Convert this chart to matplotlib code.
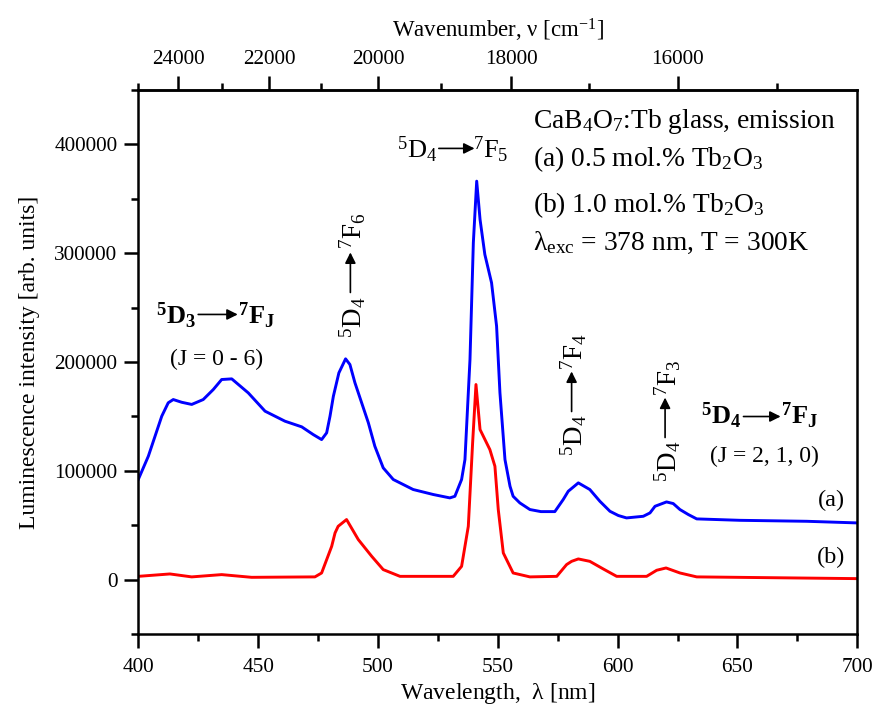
import matplotlib.pyplot as plt
import numpy as np
from matplotlib.ticker import MultipleLocator

plt.rcParams['font.family'] = 'Liberation Serif'
plt.rcParams['mathtext.fontset'] = 'custom'
plt.rcParams['mathtext.rm'] = 'Liberation Serif'
plt.rcParams['mathtext.it'] = 'Liberation Serif:italic'
plt.rcParams['mathtext.bf'] = 'Liberation Serif:bold'
plt.rcParams['mathtext.default'] = 'regular'

# (a) 0.5 mol.% Tb2O3
wl_a = [400, 404.2, 409.8, 412.5, 414.6, 418.1, 422.3, 427.1, 431.3, 434.8, 439,
        445.9, 452.9, 461.2, 468.2, 473, 476.5, 478.6, 480, 481.4, 483.7, 486.5,
        488.3, 490.4, 493.2, 496, 498.7, 502.2, 506.4, 514.7, 523.1, 530, 532.1,
        534.9, 536.3, 538.4, 539.8, 541.2, 542.6, 544.6, 547.4, 549.5, 550.9, 553,
        555.1, 556.4, 559.2, 563.4, 568, 573.8, 577.3, 579.4, 583.6, 588.4, 592.6,
        596.8, 600.3, 603.7, 610.7, 613.5, 615.6, 620.4, 623.2, 626, 629.5, 633,
        651, 678.9, 700]
int_a = [92000, 113400, 150200, 162500, 165500, 163000, 161000, 165500, 174700,
         183900, 184500, 171600, 154800, 145600, 140400, 133300, 128700, 134900,
         150200, 168500, 190000, 202900, 197700, 180900, 162500, 144100, 122600,
         102700, 92000, 82800, 78200, 75100, 76600, 92000, 110300, 202300, 309600,
         366200, 331000, 298800, 272800, 232900, 171700, 110300, 85800, 76600,
         70500, 64400, 62500, 62500, 73600, 81200, 88900, 82800, 72000, 62800,
         58900, 56700, 58200, 61300, 67400, 71400, 69900, 64400, 59800, 55800,
         54500, 53600, 52100]

# (b) 1.0 mol.% Tb2O3
wl_b = [400, 413.2, 422.3, 434.8, 447.3, 473.7, 476.5, 480.7, 482.1, 483.4, 486.9,
        491.8, 497.4, 502.2, 509.2, 531.4, 534.9, 537.7, 539.5, 540.9, 542.6, 546.7,
        548.8, 550.2, 552.3, 556.4, 563.4, 574.6, 578.7, 580.8, 583.6, 588.4, 594,
        599.6, 612.1, 616.3, 620.2, 626, 633, 700]
int_b = [3000, 5200, 2500, 4600, 2100, 2500, 6100, 30600, 42900, 49000, 55200,
         36800, 21400, 9200, 3000, 3000, 12200, 49000, 125700, 179300, 137900,
         119500, 104200, 64400, 24500, 6100, 2500, 3000, 13800, 16800, 19000, 16800,
         9800, 3000, 3000, 8600, 10700, 6100, 2500, 900]

y_ticks = [0, 100000, 200000, 300000, 400000]
y_labels = ['0', '100000', '200000', '300000', '400000']
x_ticks = [400, 450, 500, 550, 600, 650, 700]
top_ticks = [24000, 22000, 20000, 18000, 16000]
top_minor = [25000, 23000, 21000, 19000, 17000, 15000]

fig = plt.figure(figsize=(8.74, 7.08), dpi=100)
ax = fig.add_axes([0.1582, 0.1045, 0.8227, 0.7684])

ax.plot(wl_a, int_a, color='#0000ff', lw=2.1)
ax.plot(wl_b, int_b, color='#ff0000', lw=2.1)

ax.set_xlim(400, 700)
ax.set_ylim(-50000, 450000)
ax.set_xticks(x_ticks)
ax.xaxis.set_minor_locator(MultipleLocator(25))
ax.set_yticks(y_ticks)
ax.set_yticklabels(y_labels)
ax.yaxis.set_minor_locator(MultipleLocator(50000))

for s in ax.spines.values():
    s.set_linewidth(1.8)
ax.tick_params(which='major', direction='out', length=10, width=1.8, labelsize=15.3, pad=5)
ax.tick_params(which='minor', direction='out', length=5, width=1.8)
ax.tick_params(axis='x', which='major', pad=7)

ax.set_xlabel(r'Wavelength,  $\lambda$ [nm]', fontsize=17, labelpad=3)
ax.set_ylabel('Luminescence intensity [arb. units]', fontsize=17, labelpad=10)


def inv(x):
    x = np.asarray(x, dtype=float)
    with np.errstate(divide='ignore'):
        return 1e7 / x


sec = ax.secondary_xaxis('top', functions=(inv, inv))
sec.set_xticks(top_ticks)
sec.set_xticks(top_minor, minor=True)
sec.set_xticklabels([str(t) for t in top_ticks])
sec.spines['top'].set_linewidth(1.8)
sec.tick_params(which='major', direction='out', length=10, width=1.8, labelsize=15.3, pad=5)
sec.tick_params(which='minor', direction='out', length=5, width=1.8)
sec.set_xlabel(r'Wavenumber, $\nu$ [cm$^{-1}$]', fontsize=16.5, labelpad=9)

# info text
info = [r'CaB$_4$O$_7$:Tb glass, emission',
        r'(a) 0.5 mol.% Tb$_2$O$_3$',
        r'(b) 1.0 mol.% Tb$_2$O$_3$',
        r'$\lambda_{exc}$ = 378 nm, T = 300K']
info_y = [0.9296, 0.8603, 0.7763, 0.7059]
for t, yy in zip(info, info_y):
    ax.text(0.549, yy, t, transform=ax.transAxes, fontsize=19.8, va='baseline', ha='left')

arrow = dict(arrowstyle='-|>', color='k', lw=1.2, mutation_scale=16, shrinkA=0, shrinkB=0)

# 5D3 -> 7FJ (bold)
ax.text(424.1, 234500, r'$^5$D$_3$', fontsize=19, fontweight='bold', ha='right', va='baseline')
ax.annotate('', xy=(441.5, 243700), xytext=(425, 243700), arrowprops=arrow)
ax.text(441.8, 234500, r'$^7$F$_J$', fontsize=19, fontweight='bold', ha='left', va='baseline')
ax.text(432.6, 202300, '(J = 0 - 6)', fontsize=17, ha='center', va='center')

# 5D4 -> 7F5
ax.text(524.6, 387100, r'$^5$D$_4$', fontsize=19, ha='right', va='baseline')
ax.annotate('', xy=(540.3, 396300), xytext=(525.4, 396300), arrowprops=arrow)
ax.text(539.8, 387100, r'$^7$F$_5$', fontsize=19, ha='left', va='baseline')

# rotated labels: 7F6, 7F4, 7F3
rot = [(489.5, 260200, 263900, 300700, 303400, '6'),
       (581.8, 151700, 154500, 191300, 193100, '4'),
       (620.8, 127800, 130600, 167300, 169200, '3')]
for xx, y_d, y0, y1, y_f, j in rot:
    ax.text(xx, y_d, r'$^5$D$_4$', fontsize=19.5, rotation=90, ha='center', va='top')
    ax.annotate('', xy=(xx - 1.0, y1), xytext=(xx - 1.0, y0), arrowprops=arrow)
    ax.text(xx, y_f, r'$^7$F$_%s$' % j, fontsize=19.5, rotation=90, ha='center', va='bottom')

# 5D4 -> 7FJ (bold)
ax.text(651.5, 142500, r'$^5$D$_4$', fontsize=19, fontweight='bold', ha='right', va='baseline')
ax.annotate('', xy=(668.0, 149900), xytext=(652.5, 149900), arrowprops=arrow)
ax.text(668.3, 142500, r'$^7$F$_J$', fontsize=19, fontweight='bold', ha='left', va='baseline')
ax.text(661.4, 113100, '(J = 2, 1, 0)', fontsize=17, ha='center', va='center')

ax.text(689, 72500, '(a)', fontsize=17.5, ha='center', va='center')
ax.text(689, 20200, '(b)', fontsize=17.5, ha='center', va='center')

fig.savefig('out.png', dpi=100)
